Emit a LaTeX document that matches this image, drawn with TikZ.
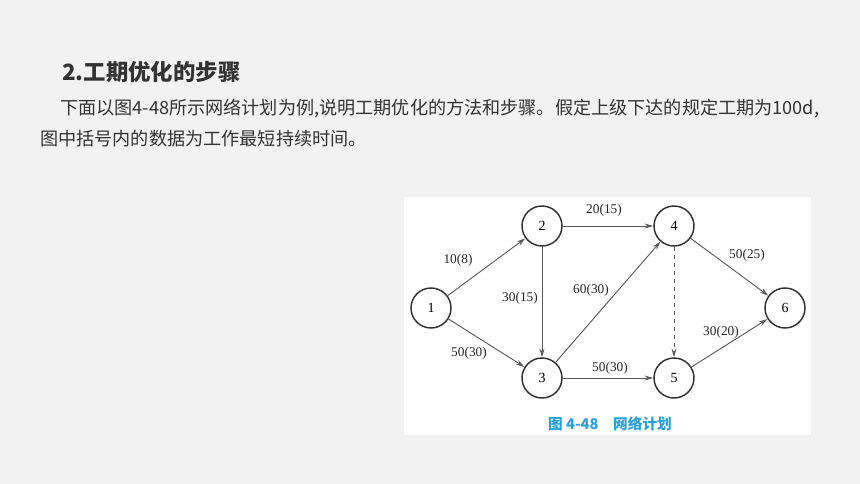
\documentclass[tikz,border=0pt]{standalone}
\usepackage{fontspec}
\setmainfont{Liberation Serif}
\newfontfamily\cjk{Noto Sans CJK SC}
\definecolor{pagegray}{RGB}{242,242,242}
\definecolor{textgray}{RGB}{51,51,51}
\definecolor{figblue}{RGB}{45,160,215}
\definecolor{edgegray}{RGB}{90,90,90}
\usetikzlibrary{arrows.meta}

\tikzset{
  event/.style={circle, draw=black!80, line width=1.1pt, fill=white, minimum size=30pt, inner sep=0pt, font=\fontsize{10.5}{12}\selectfont},
  work/.style={draw=edgegray, line width=0.7pt, -{Stealth[length=6.5pt,width=3.8pt]}},
  dummy/.style={work, dashed},
  dur/.style={font=\fontsize{10}{12}\selectfont, text=black!85, inner sep=1pt},
  para/.style={anchor=base west, inner sep=0pt, text=textgray, font=\cjk\fontsize{13.6}{16}\selectfont}
}

\begin{document}
\begin{tikzpicture}[x=0.75pt, y=-0.75pt]
  \fill[pagegray] (0,0) rectangle (860,484);
  \fill[white] (404,197) rectangle (811,435);

  % heading and text
  \node[para, font=\cjk\bfseries\fontsize{16.8}{19}\selectfont] (head) at (62,81) {2.工期优化的步骤};
  \node[para] (line1) at (60,115) {下面以图4-48所示网络计划为例,说明工期优化的方法和步骤。假定上级下达的规定工期为100d,};
  \node[para] (line2) at (40,146) {图中括号内的数据为工作最短持续时间。};

  % events
  \node[event] (n1) at (431,308) {1};
  \node[event] (n2) at (542,226) {2};
  \node[event] (n3) at (542,378) {3};
  \node[event] (n4) at (674,226) {4};
  \node[event] (n5) at (674,378) {5};
  \node[event] (n6) at (785,308) {6};

  % works
  \draw[work] (n1) -- (n2);
  \draw[work] (n1) -- (n3);
  \draw[work] (n2) -- (n4);
  \draw[work] (n2) -- (n3);
  \draw[work] (n3) -- (n4);
  \draw[work] (n3) -- (n5);
  \draw[dummy] (n4) -- (n5);
  \draw[work] (n4) -- (n6);
  \draw[work] (n5) -- (n6);

  % durations
  \node[dur] (d12) at (458,260) {10(8)};
  \node[dur] (d13) at (469,353) {50(30)};
  \node[dur] (d23) at (520,298) {30(15)};
  \node[dur] (d34) at (591,290) {60(30)};
  \node[dur] (d24) at (604,210) {20(15)};
  \node[dur] (d35) at (610,368) {50(30)};
  \node[dur] (d46) at (747,255) {50(25)};
  \node[dur] (d56) at (721,332) {30(20)};

  \node[text=figblue, font=\cjk\bfseries\fontsize{11}{13}\selectfont] (cap) at (610,424) {图 4-48\quad 网络计划};
\end{tikzpicture}
\end{document}
